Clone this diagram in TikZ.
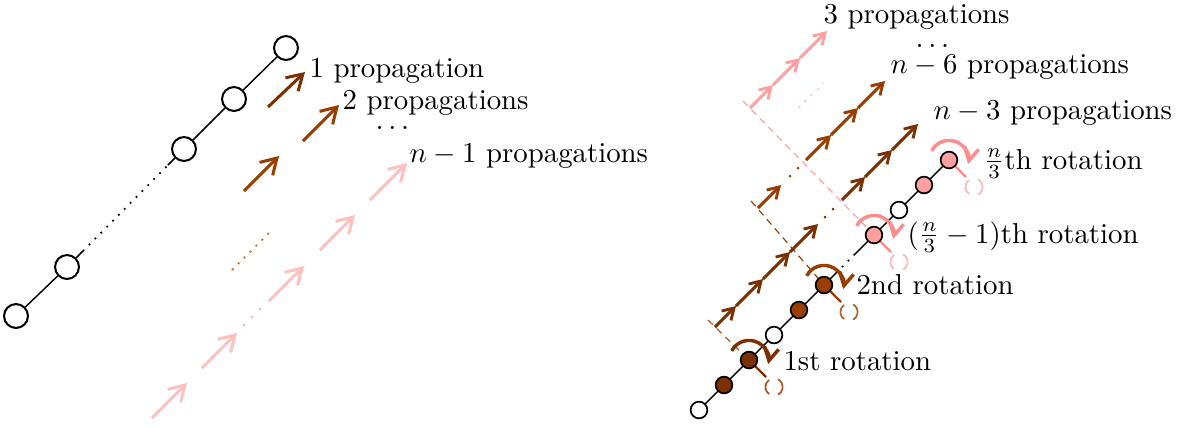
\documentclass[tikz,border=0pt]{standalone}
\usetikzlibrary{arrows.meta,calc}
\definecolor{brownD}{RGB}{122,48,0}
\definecolor{brownM}{RGB}{153,61,0}
\definecolor{pinkA}{RGB}{255,192,192}
\definecolor{pinkB}{RGB}{255,160,160}
\definecolor{pinkC}{RGB}{255,140,140}
\definecolor{pinkD}{RGB}{255,185,185}
\newcommand{\rotsym}[3]{%
  \draw[#2,line width=0.8pt] ($(#1)+(6,6)$) -- ($(#1)+(17,17)$);
  \draw[#3,line width=0.6pt] ($(#1)+(25,27)+(125:3pt)$) arc[start angle=125,end angle=235,radius=3pt];
  \draw[#3,line width=0.6pt] ($(#1)+(25,27)+(-62:3pt)$) arc[start angle=-62,end angle=62,radius=3pt];
  \draw[#2,line width=1.2pt,-{Straight Barb[length=4.5pt,width=5pt]}] ($(#1)+(152:6.8pt)$) arc[start angle=152,end angle=-12,radius=6.8pt];
}
\begin{document}
\begin{tikzpicture}[x=0.347pt,y=-0.347pt,
  chain/.style={line width=0.5pt},
  chaindots/.style={line width=0.6pt,dash pattern=on 0.6pt off 2.3pt},
  lnode/.style={circle,draw,line width=0.7pt,fill=white,minimum size=8.3pt,inner sep=0pt},
  rnode/.style={circle,draw,line width=0.6pt,fill=white,minimum size=5.8pt,inner sep=0pt},
  bigarrow/.style={line width=1.05pt,-{Straight Barb[length=5.3pt,width=6.4pt]}},
  smallarrow/.style={line width=1pt,-{Straight Barb[length=3.8pt,width=4.6pt]}},
  guide/.style={line width=0.4pt,dash pattern=on 2.4pt off 1.8pt},
  lbl/.style={anchor=base west,inner sep=0pt}]
\useasboundingbox (0,0) rectangle (1178,427);

% ---------------- left part ----------------
\node[lnode] (l1) at (16,316) {};
\node[lnode] (l2) at (67,267) {};
\node[lnode] (l3) at (184,149) {};
\node[lnode] (l4) at (234,99) {};
\node[lnode] (l5) at (286,48) {};
\coordinate (g1) at (83,251);
\coordinate (g2) at (168,165);
\draw[chain] (l1) -- (l2);
\draw[chain] (l2) -- (g1);
\draw[chaindots] (g1) -- (g2);
\draw[chain] (g2) -- (l3);
\draw[chain] (l3) -- (l4);
\draw[chain] (l4) -- (l5);

\draw[bigarrow,brownD] (268,107) -- (305,72);
\draw[bigarrow,brownM] (244,191) -- (279,156);
\draw[bigarrow,brownM] (303,141) -- (339,105);
\draw[brownM!75,line width=0.6pt,dash pattern=on 0.7pt off 2.2pt] (232,270) -- (270,232);
\foreach \a/\b in {152/187,202/237,269/304,320/355,370/407}
  \draw[bigarrow,pinkA] (\a,570-\a) -- (\b,570-\b);
\foreach \p in {244,252,260}
  \fill[pinkA] (\p,569-\p) circle[radius=1.6];

\node[lbl] (t1) at (309,77) {1 propagation};
\node[lbl] (t2) at (342,109) {2 propagations};
\node[lbl] (t3) at (375,129) {$\ldots$};
\node[lbl] (t4) at (409,162) {$n-1$ propagations};

% ---------------- right part ----------------
\coordinate (S1) at (715,327);
\coordinate (S2) at (758,208);
\coordinate (Sp) at (750,108);

\coordinate (c0) at (699,410);
\coordinate (c1) at (724,385);
\coordinate (c2) at (749,360);
\coordinate (c3) at (774,335);
\coordinate (c4) at (799,310);
\coordinate (c5) at (824,285);
\coordinate (c7) at (874,235);
\coordinate (c8) at (899,210);
\coordinate (c9) at (924,185);
\coordinate (c10) at (949,160);

% guides
\draw[guide,brownM!85] ($(S1)+(-7,-7)$) -- (c2);
\draw[guide,brownM] ($(S2)+(-7,-7)$) -- (c5);
\draw[guide,pinkB] ($(Sp)+(-7,-7)$) -- (c7);
\draw[pinkA!70,line width=0.6pt,dash pattern=on 1pt off 2pt] (798,108) -- (824,83);

% chain
\coordinate (h1) at (836,273);
\coordinate (h2) at (855,254);
\draw[chain] (c0) -- (c5) -- (h1);
\draw[chaindots] (h1) -- (h2);
\draw[chain] (h2) -- (c7) -- (c10);

% rotation axes and parens
\rotsym{c2}{brownD}{brownM!85}
\rotsym{c5}{brownM}{brownM!80}
\rotsym{c7}{pinkC}{pinkD}
\rotsym{c10}{pinkC}{pinkD}

% chain nodes
\node[rnode] (r0) at (c0) {};
\node[rnode,fill=brownD] (r1) at (c1) {};
\node[rnode,fill=brownD] (r2) at (c2) {};
\node[rnode] (r3) at (c3) {};
\node[rnode,fill=brownM] (r4) at (c4) {};
\node[rnode,fill=brownM] (r5) at (c5) {};
\node[rnode,fill=pinkB] (r7) at (c7) {};
\node[rnode] (r8) at (c8) {};
\node[rnode,fill=pinkB] (r9) at (c9) {};
\node[rnode,fill=pinkB] (r10) at (c10) {};

% propagation rows
\foreach \a/\b in {715/736,736/763,763/790,790/818,842/865,865/892,892/918}
  \draw[smallarrow,brownD] (\a,1042-\a) -- (\b,1042-\b);
\foreach \p in {825,833}
  \fill[brownD] (\p,1042-\p) circle[radius=1.5];
\foreach \a/\b in {758/781,806/831,831/858,858/885}
  \draw[smallarrow,brownM] (\a,966-\a) -- (\b,966-\b);
\foreach \p in {790,798}
  \fill[brownM] (\p,966-\p) circle[radius=1.5];
\foreach \a/\b in {750/773,773/800,800/827}
  \draw[smallarrow,pinkB] (\a,858-\a) -- (\b,858-\b);

\node[lbl] (t5) at (823,23) {3 propagations};
\node[lbl] (t6) at (915,47) {$\ldots$};
\node[lbl] (t7) at (890,73) {$n-6$ propagations};
\node[lbl] (t8) at (933,119) {$n-3$ propagations};
\node[lbl] (t9) at (983,169) {$\frac{n}{3}$th rotation};
\node[lbl] (t10) at (907,243) {$(\frac{n}{3}-1)$th rotation};
\node[lbl] (t11) at (856,294) {2nd rotation};
\node[lbl] (t12) at (783,370) {1st rotation};
\end{tikzpicture}
\end{document}
